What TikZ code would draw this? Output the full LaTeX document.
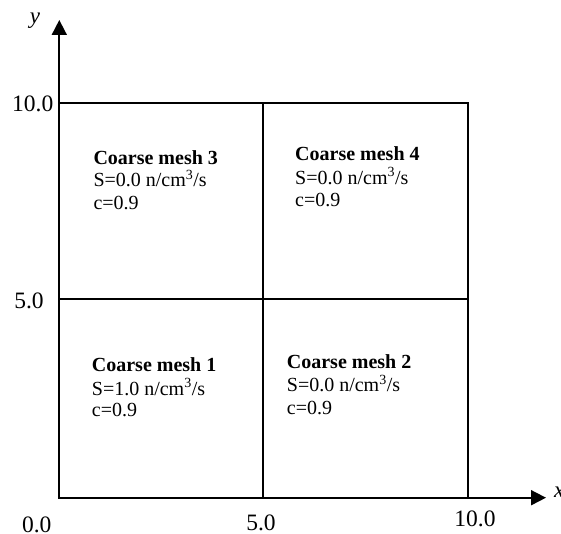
\documentclass[tikz,border=0pt]{standalone}
\usepackage{fontspec}
\setmainfont{Liberation Serif}
\usetikzlibrary{arrows.meta}
\begin{document}
\begin{tikzpicture}[x=1pt,y=-1pt,
  gridline/.style={line width=1.8pt, line cap=rect},
  axisline/.style={line width=1.8pt, -{Triangle[length=15pt,width=15pt]}},
  meshtitle/.style={anchor=base west, inner sep=0pt, font=\fontsize{20}{24}\selectfont\bfseries},
  meshtext/.style={anchor=base west, inner sep=0pt, font=\fontsize{20}{24}\selectfont},
  ticklabel/.style={anchor=base, inner sep=0pt, font=\fontsize{23.5}{28}\selectfont},
  axislabel/.style={anchor=base, inner sep=0pt, font=\fontsize{23}{28}\selectfont\itshape}]
\useasboundingbox (0,0) rectangle (561,534);
% grid corners
\coordinate (o)  at (59.3,497.7);
\coordinate (bm) at (263,497.7);
\coordinate (br) at (468,497.7);
\coordinate (ml) at (59.3,299);
\coordinate (mm) at (263,299);
\coordinate (mr) at (468,299);
\coordinate (tl) at (59.3,103.3);
\coordinate (tm) at (263,103.3);
\coordinate (tr) at (468,103.3);
\coordinate (yend) at (59.3,20);
\coordinate (xend) at (546,497.7);
% mesh
\draw[gridline] (tl) -- (tr) -- (br) -- (o) -- cycle;
\draw[gridline] (ml) -- (mr);
\draw[gridline] (tm) -- (bm);
% axes
\draw[axisline] (o) -- (yend);
\draw[axisline] (o) -- (xend);
\node[axislabel] (ylab) at (35,24) {y};
\node[axislabel, anchor=base west] (xlab) at (554,497) {x};
% tick labels
\node[ticklabel] (t00) at (36.7,532.3) {0.0};
\node[ticklabel] (tx5) at (261,530) {5.0};
\node[ticklabel] (tx10) at (475,526.7) {10.0};
\node[ticklabel] (ty5) at (29,308.3) {5.0};
\node[ticklabel] (ty10) at (32.7,111.7) {10.0};
% mesh 3
\node[meshtitle] (m3t) at (93.3,165) {Coarse mesh 3};
\node[meshtext] (m3s) at (93.3,186.7) {S=0.0 n/cm\textsuperscript{3}/s};
\node[meshtext] (m3c) at (93.3,209.5) {c=0.9};
% mesh 4
\node[meshtitle] (m4t) at (295,160.7) {Coarse mesh 4};
\node[meshtext] (m4s) at (295,184.3) {S=0.0 n/cm\textsuperscript{3}/s};
\node[meshtext] (m4c) at (295,206.7) {c=0.9};
% mesh 1
\node[meshtitle] (m1t) at (91.7,371.7) {Coarse mesh 1};
\node[meshtext] (m1s) at (91.7,395) {S=1.0 n/cm\textsuperscript{3}/s};
\node[meshtext] (m1c) at (91.7,416.7) {c=0.9};
% mesh 2
\node[meshtitle] (m2t) at (286.7,368.3) {Coarse mesh 2};
\node[meshtext] (m2s) at (286.7,391.7) {S=0.0 n/cm\textsuperscript{3}/s};
\node[meshtext] (m2c) at (286.7,414) {c=0.9};
\end{tikzpicture}
\end{document}
